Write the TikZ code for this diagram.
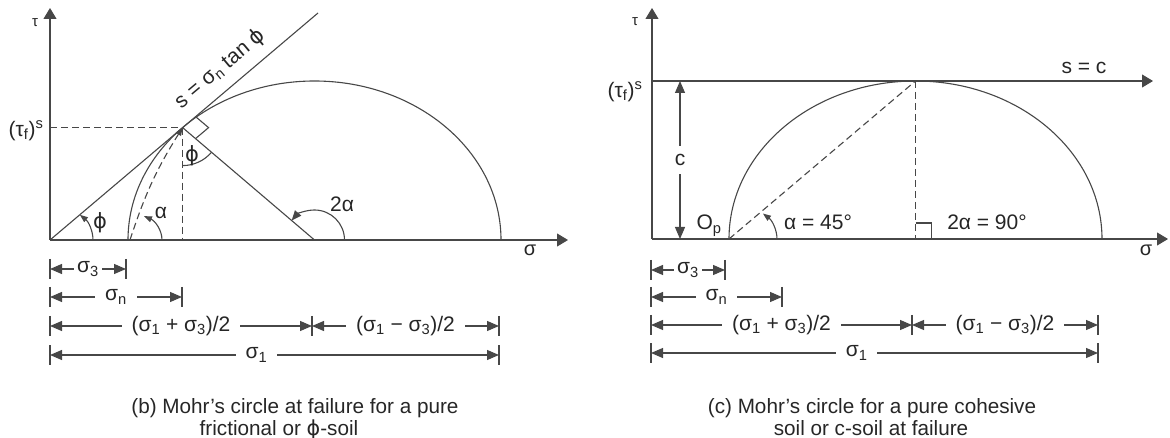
\documentclass[tikz,border=0pt]{standalone}
\usepackage{fontspec}
\setmainfont{Liberation Sans}
\newfontfamily\dvsfont{DejaVu Sans}
\newcommand{\myphi}{{\dvsfont ϕ}}
\usetikzlibrary{arrows.meta,calc}
\begin{document}
\begin{tikzpicture}[x=1pt,y=1pt,
  ln/.style={line width=1.1pt, draw=black!72},
  axis/.style={ln, -{Triangle[length=11pt,width=13pt]}},
  dim/.style={ln, {Triangle[length=12pt,width=10pt]}-{Triangle[length=12pt,width=10pt]}},
  dsh/.style={ln, dash pattern=on 7pt off 4pt},
  smallarr/.style={ln, -{Triangle[length=8pt,width=6pt]}},
  lbl/.style={font=\fontsize{21}{25}\selectfont, text=black!85, inner sep=1pt},
  dl/.style={lbl, fill=white, inner xsep=10pt},
  axl/.style={font=\fontsize{20}{24}\selectfont, text=black!85, inner sep=0pt},
  taul/.style={font=\fontsize{15}{18}\selectfont, text=black!85, inner sep=0pt},
  captxt/.style={font=\fontsize{20.7}{24}\selectfont, text=black!85, inner sep=0pt, anchor=base},
  tickln/.style={ln}]
\useasboundingbox (0,0) rectangle (1170,-438);

% ================= LEFT PANEL =================
\coordinate (O1) at (50,-240);
\coordinate (Yt1) at (50,-8);
\coordinate (Xe1) at (568,-240);
\coordinate (S3a) at (128,-240);
\coordinate (S1a) at (501,-240);
\coordinate (C1) at (314.5,-240);
\coordinate (T1) at (182.6,-127.6);
\coordinate (E1) at (318,-13);
\coordinate (H1) at (50,-127.6);
\coordinate (F1) at (182.6,-240);

\draw[axis] (O1) -- (Yt1);
\draw[axis] (O1) -- (Xe1);
\draw[ln] (S1a) arc[start angle=0,end angle=180,x radius=186.5,y radius=159];
\draw[ln] (O1) -- (E1);
\draw[ln] (T1) -- (C1);
\draw[dsh] (H1) -- (T1);
\draw[dsh] (T1) -- (F1);
\draw[dsh, -{Triangle[length=8pt,width=6pt]}] ($(S3a)+(2,0)$) to[bend left=7] (T1);
\draw[ln] ($(T1)!17pt!(E1)$) -- ++(13,-11) -- ($(T1)!17pt!(C1)$);

\draw[smallarr] ($(O1)+(43,0)$) arc[start angle=0,end angle=46,x radius=43,y radius=35];
\draw[smallarr] ($(S3a)+(34,0)$) arc[start angle=0,end angle=62,x radius=34,y radius=27];
\draw[ln] ($(T1)+(0,-38)$) arc[start angle=270,end angle=319.6,radius=38];
\draw[ln, -{Triangle[length=10pt,width=8pt]}] ($(C1)+(30,0)$) arc[start angle=0,end angle=139.6,radius=30];

\node[taul] (tauA) at (35,-23) {τ};
\node[axl] (sigA) at (530,-250) {σ};
\node[lbl, anchor=base] (tfA) at (26,-136.5) {(τ\textsubscript{f})\textsuperscript{s}};
\node[lbl, rotate=40] (envA) at (220,-69) {s = σ\textsubscript{n} tan \myphi};
\node[lbl] (phiA) at (100,-223) {\myphi};
\node[lbl] (alA) at (161,-213) {α};
\node[lbl] (phiB) at (192,-156) {\myphi};
\node[lbl, anchor=base] (twoA) at (342,-212) {2α};

% dimension lines left
\foreach \x/\y in {50/269,126/269,50/297,182/297,50/326,312/326,499/326,50/355,499/355}
  \draw[tickln] (\x,-\y+10) -- (\x,-\y-10);
\coordinate (a1) at (50,-269);  \coordinate (a2) at (126,-269);
\coordinate (b1) at (50,-297);  \coordinate (b2) at (182,-297);
\coordinate (c1) at (50,-326);  \coordinate (c2) at (312,-326); \coordinate (c3) at (499,-326);
\coordinate (e1) at (50,-355);  \coordinate (e2) at (499,-355);
\draw[dim] (a1) -- node[dl, inner xsep=3pt] (da) {σ\textsubscript{3}} (a2);
\draw[dim] (b1) -- node[dl] (db) {σ\textsubscript{n}} (b2);
\draw[dim] (c1) -- node[dl] (dc) {(σ\textsubscript{1} + σ\textsubscript{3})/2} (c2);
\draw[dim] (c2) -- node[dl] (dd) {(σ\textsubscript{1} − σ\textsubscript{3})/2} (c3);
\draw[dim] (e1) -- node[dl, pos=0.46] (de) {σ\textsubscript{1}} (e2);

\node[captxt] (capb1) at (295,-413) {(b) Mohr’s circle at failure for a pure};
\node[captxt] (capb2) at (279,-435) {frictional or \myphi-soil};

% ================= RIGHT PANEL =================
\coordinate (O2) at (652,-239);
\coordinate (Yt2) at (652,-8);
\coordinate (Xe2) at (1168,-239);
\coordinate (H2) at (652,-81);
\coordinate (Se2) at (1153,-81);
\coordinate (L2) at (729,-239);
\coordinate (R2) at (1102,-239);
\coordinate (T2) at (915.5,-81);
\coordinate (F2) at (915.5,-239);
\coordinate (Ca) at (680,-81);
\coordinate (Cb) at (680,-239);

\draw[axis] (O2) -- (Yt2);
\draw[axis] (O2) -- (Xe2);
\draw[axis] (H2) -- (Se2);
\draw[ln] (R2) arc[start angle=0,end angle=180,x radius=186.5,y radius=158];
\draw[dsh] (L2) -- (T2);
\draw[dsh] (T2) -- (F2);
\draw[ln] ($(F2)+(0,16)$) -| ($(F2)+(16,0)$);
\draw[dim] (Ca) -- node[lbl, fill=white, inner ysep=8pt] (cl) {c} (Cb);
\draw[smallarr] ($(L2)+(48,0)$) arc[start angle=0,end angle=45,x radius=48,y radius=36];

\node[taul] (tauB) at (635,-22) {τ};
\node[axl] (sigB) at (1146,-250) {σ};
\node[lbl, anchor=base] (tfB) at (625,-97.5) {(τ\textsubscript{f})\textsuperscript{s}};
\node[lbl, anchor=base] (sc) at (1084,-74) {s = c};
\node[lbl, anchor=base] (op) at (709,-230) {O\textsubscript{p}};
\node[lbl, anchor=base] (al45) at (818,-230) {α = 45°};
\node[lbl, anchor=base] (al90) at (987,-230) {2α = 90°};

% dimension lines right
\foreach \x/\y in {651/270,725/270,651/297,782/297,651/325,912/325,1098/325,651/353,1098/353}
  \draw[tickln] (\x,-\y+10) -- (\x,-\y-10);
\coordinate (f1) at (651,-270);  \coordinate (f2) at (725,-270);
\coordinate (g1) at (651,-297);  \coordinate (g2) at (782,-297);
\coordinate (h1) at (651,-325);  \coordinate (h2) at (912,-325); \coordinate (h3) at (1098,-325);
\coordinate (k1) at (651,-353);  \coordinate (k2) at (1098,-353);
\draw[dim] (f1) -- node[dl, inner xsep=3pt] (df) {σ\textsubscript{3}} (f2);
\draw[dim] (g1) -- node[dl] (dg) {σ\textsubscript{n}} (g2);
\draw[dim] (h1) -- node[dl] (dh) {(σ\textsubscript{1} + σ\textsubscript{3})/2} (h2);
\draw[dim] (h2) -- node[dl] (di) {(σ\textsubscript{1} − σ\textsubscript{3})/2} (h3);
\draw[dim] (k1) -- node[dl, pos=0.46] (dk) {σ\textsubscript{1}} (k2);

\node[captxt] (capc1) at (872,-413) {(c) Mohr’s circle for a pure cohesive};
\node[captxt] (capc2) at (871,-435) {soil or c-soil at failure};
\end{tikzpicture}
\end{document}
